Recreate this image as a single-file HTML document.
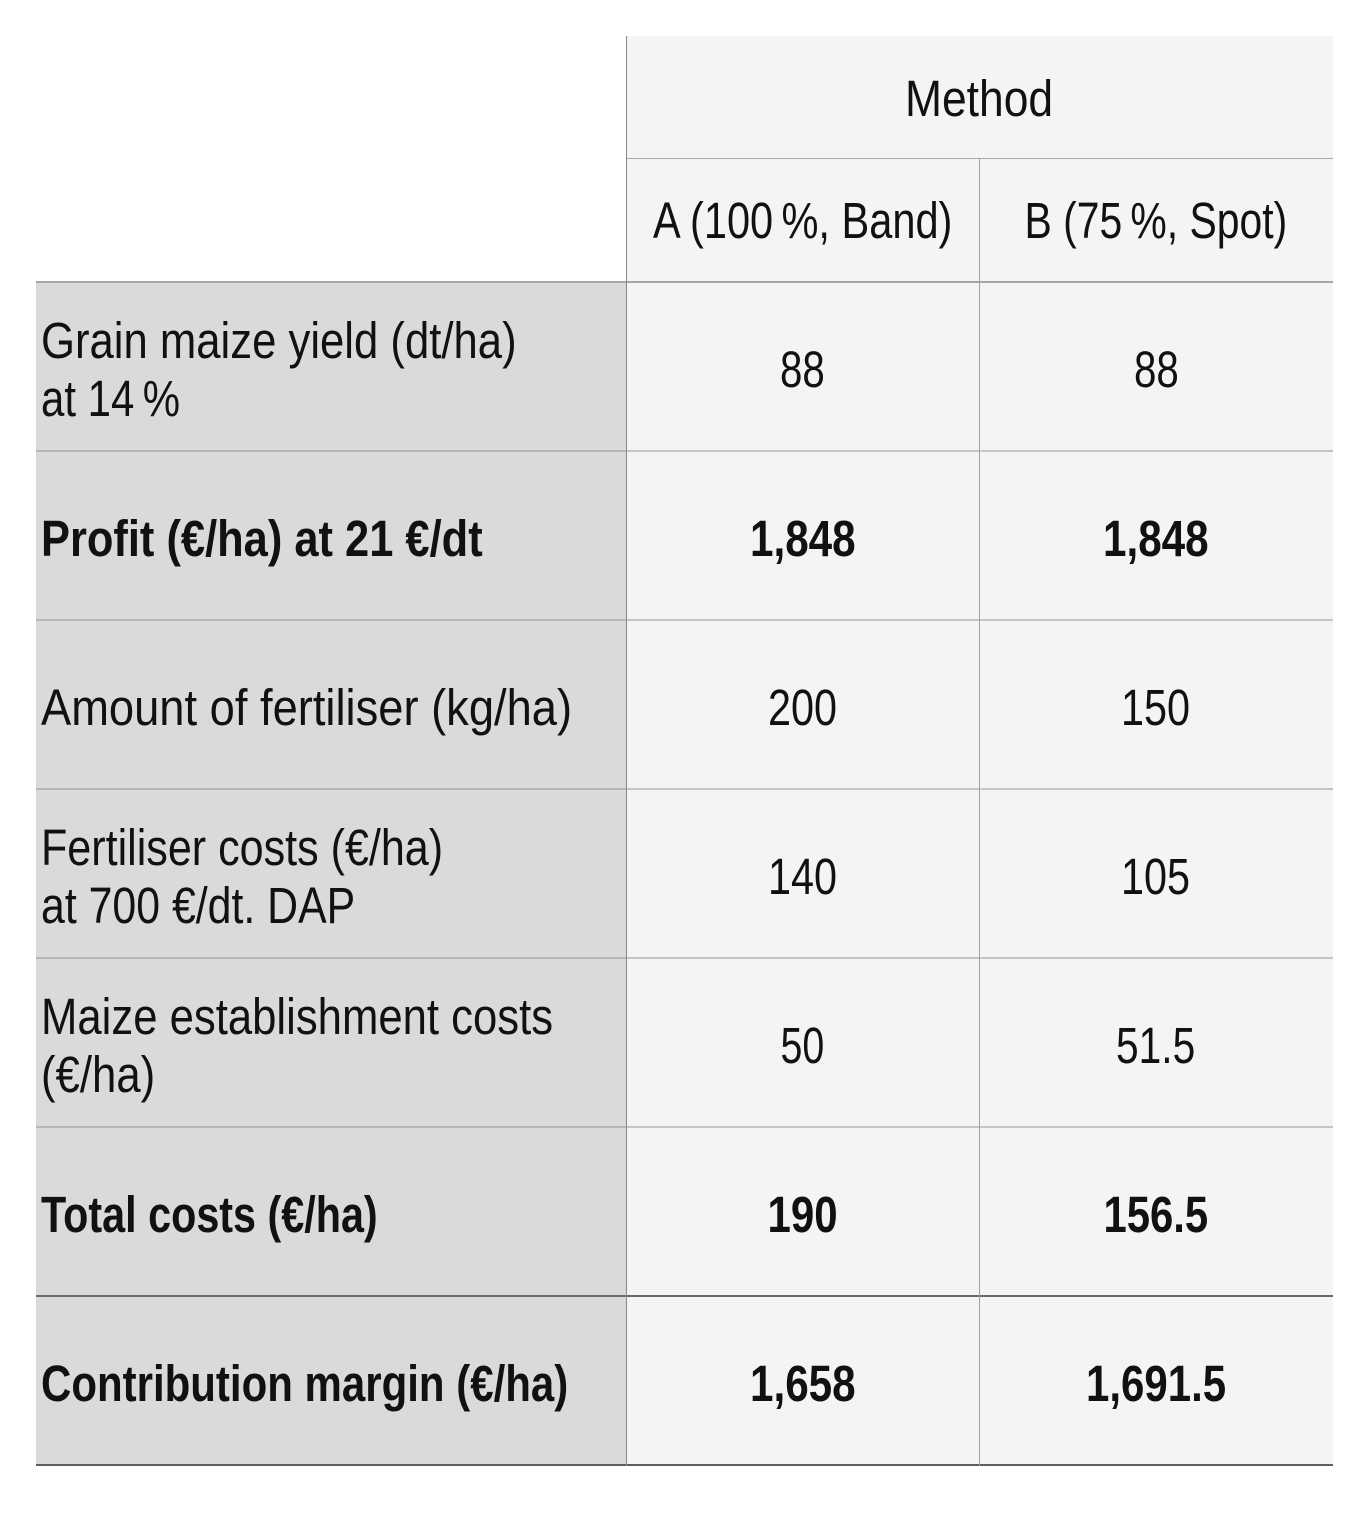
<!DOCTYPE html>
<html>
<head>
<meta charset="utf-8">
<style>
html,body{margin:0;padding:0;background:#fff;}
body{width:1369px;height:1515px;position:relative;overflow:hidden;
font-family:"Liberation Sans",sans-serif;color:#111;}
.c{position:absolute;display:flex;align-items:center;box-sizing:border-box;
font-size:51px;line-height:58px;padding-top:6px;white-space:nowrap;}
.l{background:#d9dada;left:36px;width:590px;padding-left:5px;}
.a{background:#f3f5f4;left:626px;width:353px;justify-content:center;}
.b{background:#f3f5f4;left:979px;width:354px;justify-content:center;}
.bold{font-weight:bold;}
.f{display:inline-block;white-space:nowrap;transform:scaleX(0.84);transform-origin:50% 50%;}
.l .f{transform-origin:0 50%;}
.h{position:absolute;height:1px;}
.v{position:absolute;width:1px;background:#8a8a8a;}
</style>
</head>
<body>
<!-- header -->
<div class="c" style="left:626px;width:707px;top:36px;height:122px;background:#f3f5f4;justify-content:center;padding-top:4px;"><span class="f">Method</span></div>
<div class="c a" style="top:158px;height:124px;padding-top:2px;"><span class="f">A (100&#8201;%, Band)</span></div>
<div class="c b" style="top:158px;height:124px;padding-top:2px;"><span class="f">B (75&#8201;%, Spot)</span></div>

<!-- rows -->
<div class="c l" style="top:282px;height:169px;"><div><span class="f">Grain maize yield (dt/ha)</span><br><span class="f">at 14&#8201;%</span></div></div>
<div class="c a" style="top:282px;height:169px;"><span class="f">88</span></div>
<div class="c b" style="top:282px;height:169px;"><span class="f">88</span></div>

<div class="c l bold" style="top:451px;height:169px;"><span class="f">Profit (€/ha) at 21 €/dt</span></div>
<div class="c a bold" style="top:451px;height:169px;"><span class="f">1,848</span></div>
<div class="c b bold" style="top:451px;height:169px;"><span class="f">1,848</span></div>

<div class="c l" style="top:620px;height:169px;"><span class="f">Amount of fertiliser (kg/ha)</span></div>
<div class="c a" style="top:620px;height:169px;"><span class="f">200</span></div>
<div class="c b" style="top:620px;height:169px;"><span class="f">150</span></div>

<div class="c l" style="top:789px;height:169px;"><div><span class="f">Fertiliser costs (€/ha)</span><br><span class="f">at 700 €/dt. DAP</span></div></div>
<div class="c a" style="top:789px;height:169px;"><span class="f">140</span></div>
<div class="c b" style="top:789px;height:169px;"><span class="f">105</span></div>

<div class="c l" style="top:958px;height:169px;"><div><span class="f">Maize establishment costs</span><br><span class="f">(€/ha)</span></div></div>
<div class="c a" style="top:958px;height:169px;"><span class="f">50</span></div>
<div class="c b" style="top:958px;height:169px;"><span class="f">51.5</span></div>

<div class="c l bold" style="top:1127px;height:169px;"><span class="f">Total costs (€/ha)</span></div>
<div class="c a bold" style="top:1127px;height:169px;"><span class="f">190</span></div>
<div class="c b bold" style="top:1127px;height:169px;"><span class="f">156.5</span></div>

<div class="c l bold" style="top:1296px;height:169px;"><span class="f">Contribution margin (€/ha)</span></div>
<div class="c a bold" style="top:1296px;height:169px;"><span class="f">1,658</span></div>
<div class="c b bold" style="top:1296px;height:169px;"><span class="f">1,691.5</span></div>

<!-- horizontal lines -->
<div class="h" style="left:626px;width:707px;top:158px;background:#a9abab;"></div>
<div class="h" style="left:36px;width:1297px;top:281px;height:2px;background:#a6a8a8;"></div>
<div class="h" style="left:36px;width:590px;top:450px;height:2px;background:#b5b6b6;"></div>
<div class="h" style="left:626px;width:707px;top:450px;height:2px;background:#c4c6c5;"></div>
<div class="h" style="left:36px;width:590px;top:619px;height:2px;background:#b5b6b6;"></div>
<div class="h" style="left:626px;width:707px;top:619px;height:2px;background:#c4c6c5;"></div>
<div class="h" style="left:36px;width:590px;top:788px;height:2px;background:#b5b6b6;"></div>
<div class="h" style="left:626px;width:707px;top:788px;height:2px;background:#c4c6c5;"></div>
<div class="h" style="left:36px;width:590px;top:957px;height:2px;background:#b5b6b6;"></div>
<div class="h" style="left:626px;width:707px;top:957px;height:2px;background:#c4c6c5;"></div>
<div class="h" style="left:36px;width:590px;top:1126px;height:2px;background:#b5b6b6;"></div>
<div class="h" style="left:626px;width:707px;top:1126px;height:2px;background:#c4c6c5;"></div>
<div class="h" style="left:36px;width:1297px;top:1295px;height:2px;background:#6a6a6a;"></div>
<div class="h" style="left:36px;width:1297px;top:1464px;height:2px;background:#5e5e5e;"></div>

<!-- vertical lines -->
<div class="v" style="left:626px;top:36px;height:1430px;"></div>
<div class="v" style="left:979px;top:158px;height:1308px;background:#a0a2a2;"></div>

<script>
(function(){
  var t=[148,299,263,
         476,139,45,45,
         442,106,106,
         531,69,69,
         402,314,69,69,
         512,114,44,79,
         337,70,105,
         527,106,140];
  var els=document.querySelectorAll('.f');
  for(var i=0;i<els.length&&i<t.length;i++){
    var w=els[i].offsetWidth;
    if(w>0){els[i].style.transform='scaleX('+(t[i]/w)+')';}
  }
})();
</script>
</body>
</html>
